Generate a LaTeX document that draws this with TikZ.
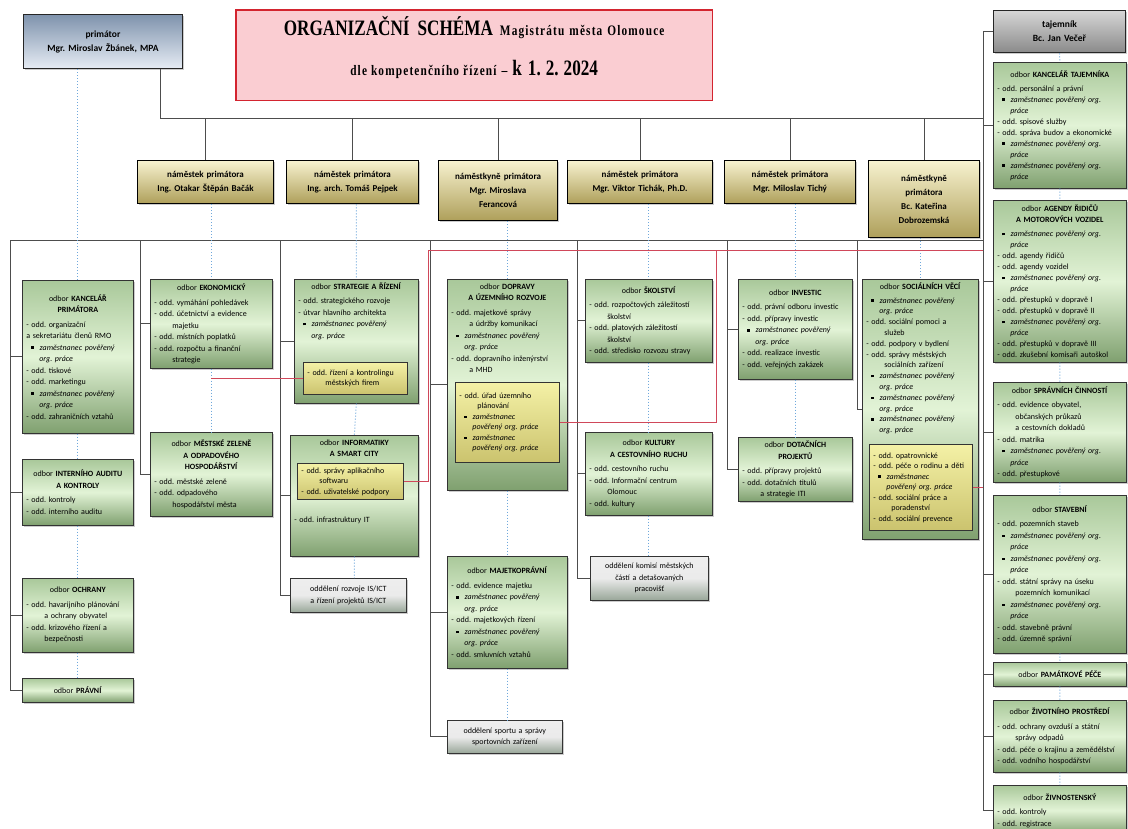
\documentclass[tikz,border=0pt]{standalone}
\usepackage{fontspec}
\setmainfont{Carlito}
\newfontfamily\ttlfont[FakeStretch=0.78]{Liberation Serif}
\usetikzlibrary{shadows}
\frenchspacing

\definecolor{grnTop}{HTML}{A9C89A}
\definecolor{grnMid}{HTML}{E2F3D6}
\definecolor{grnBot}{HTML}{7FA06F}
\definecolor{ylwTop}{HTML}{F4F1A6}
\definecolor{ylwBot}{HTML}{CBC36E}
\definecolor{khTop}{HTML}{F7F2CF}
\definecolor{khBot}{HTML}{AE9F5A}
\definecolor{mayTop}{HTML}{7F93AD}
\definecolor{mayBot}{HTML}{E6ECF4}
\definecolor{secTop}{HTML}{D6D6D6}
\definecolor{secBot}{HTML}{8A8A8A}
\definecolor{odlTop}{HTML}{EEEEEE}
\definecolor{odlBot}{HTML}{98A698}
\definecolor{pinkFill}{HTML}{FACDD2}
\definecolor{redEdge}{HTML}{D3242F}
\definecolor{dotBlue}{HTML}{6FA8DC}
\definecolor{lineGray}{HTML}{4D4D4D}
\definecolor{redLink}{HTML}{D0485A}

\newcommand{\odb}[1]{{\centering odbor \textbf{#1}\par}\vspace{3pt}}
\newcommand{\zamc}[1]{\hspace*{5pt}\rule[1.4pt]{2.3pt}{2.3pt}\hspace{6pt}\textit{#1}}
\newcommand{\zamk}[1]{\hspace*{13pt}\textit{#1}}
\newcommand{\odsaz}[1]{\hspace*{18pt}#1}

\tikzset{
  basebox/.style={draw=black!80, line width=0.7pt, anchor=north west, inner xsep=4pt, inner ysep=3pt, align=left, font=\fontsize{8}{11.5}\selectfont},
  shadowed/.style={drop shadow={shadow xshift=1.2pt, shadow yshift=-1.2pt, opacity=0.4}},
  dept/.style={basebox, shadowed, top color=grnTop, bottom color=grnBot, middle color=grnMid},
  subodd/.style={basebox, line width=0.8pt, top color=ylwTop, bottom color=ylwBot, font=\fontsize{8}{10.5}\selectfont},
  oddel/.style={basebox, shadowed, align=center, top color=odlTop, bottom color=odlBot, middle color=white!92!black},
  deputy/.style={draw=black, line width=1.4pt, anchor=north west, align=center, shadowed, top color=khTop, bottom color=khBot, font=\bfseries\fontsize{9}{14}\selectfont},
  headbox/.style={draw=black!85, line width=1.3pt, anchor=north west, align=center, shadowed, font=\bfseries\fontsize{9.5}{14}\selectfont},
  titlebox/.style={draw=redEdge, line width=1.6pt, fill=pinkFill, anchor=north west, align=center},
  spine/.style={draw=lineGray, line width=0.9pt},
  dotline/.style={draw=dotBlue, dotted, line width=1pt},
  redline/.style={draw=redLink, line width=0.8pt}
}

\begin{document}
\begin{tikzpicture}[x=1pt,y=-1pt]
    \useasboundingbox (0,0) rectangle (1128,828);
    \fill[white] (0,0) rectangle (1128,828);

    \node[headbox, top color=mayTop, bottom color=mayBot, text width=152pt, minimum height=54pt] at (23,14) (mayor) {primátor\\Mgr. Miroslav Žbánek, MPA};
    \node[titlebox, text width=470pt, text height=22pt, text depth=62pt] at (235,9) (title) {{\ttlfont\bfseries\fontsize{22}{26}\selectfont ORGANIZAČNÍ\hspace{8pt}SCHÉMA}\hspace{7pt}{\ttlfont\bfseries\fontsize{14.5}{16}\selectfont\addfontfeature{LetterSpace=8}Magistrátu\hspace{5pt}města\hspace{5pt}Olomouce}\\[21pt]{\ttlfont\bfseries\fontsize{14.5}{16}\selectfont\addfontfeature{LetterSpace=8}dle\hspace{4pt}kompetenčního\hspace{4pt}řízení}\hspace{5pt}{\ttlfont\bfseries\fontsize{15}{16}\selectfont –}\hspace{5pt}{\ttlfont\bfseries\fontsize{22}{26}\selectfont k\hspace{6pt}1.\hspace{5pt}2.\hspace{5pt}2024}};
    \node[headbox, top color=secTop, bottom color=secBot, text width=125pt, minimum height=42pt] at (993,10) (tajemnik) {tajemník\\Bc. Jan Večeř};

    \node[deputy, text width=129pt, minimum height=43pt] at (137,160) (bacak) {náměstek primátora\\Ing. Otakar Štěpán Bačák};
    \node[deputy, text width=125pt, minimum height=43pt] at (286,160) (pejpek) {náměstek primátora\\Ing. arch. Tomáš Pejpek};
    \node[deputy, text width=112pt, minimum height=60pt] at (438,160) (ferancova) {náměstkyně primátora\\Mgr. Miroslava\\Ferancová};
    \node[deputy, text width=138pt, minimum height=43pt] at (567,160) (tichak) {náměstek primátora\\Mgr. Viktor Tichák, Ph.D.};
    \node[deputy, text width=124pt, minimum height=43pt] at (724,160) (tichy) {náměstek primátora\\Mgr. Miloslav Tichý};
    \node[deputy, text width=104pt, minimum height=77pt] at (868,160) (dobroz) {náměstkyně\\primátora\\Bc. Kateřina\\Dobrozemská};

    \node[dept, text width=103pt, minimum height=153pt] at (22,280) (kanc) {\odb{KANCELÁŘ\\PRIMÁTORA}- odd. organizační\\a sekretariátu členů RMO\\\zamc{zaměstnanec pověřený}\\\zamk{org. práce}\\- odd. tiskové\\- odd. marketingu\\\zamc{zaměstnanec pověřený}\\\zamk{org. práce}\\- odd. zahraničních vztahů};
    \node[dept, text width=103pt, minimum height=66pt] at (22,459) (audit) {\odb{INTERNÍHO AUDITU\\A KONTROLY} - odd. kontroly\\ - odd. interního auditu};
    \node[dept, text width=103pt, minimum height=74pt] at (22,578) (ochrany) {\odb{OCHRANY}- odd. havarijního plánování\\\odsaz{a ochrany obyvatel}\\- odd. krizového řízení a\\\odsaz{bezpečnosti}};
    \node[dept, align=center, text width=103pt, minimum height=24pt] at (22,678) (pravni) {odbor \textbf{PRÁVNÍ}};

    \node[dept, text width=114pt, minimum height=89pt] at (150,279) (ekon) {\odb{EKONOMICKÝ}- odd. vymáhání pohledávek\\- odd. účetnictví a evidence\\\odsaz{majetku}\\- odd. místních poplatků\\- odd. rozpočtu a finanční\\\odsaz{strategie}};
    \node[dept, text width=114pt, minimum height=84pt] at (150,432) (zelen) {\odb{MĚSTSKÉ ZELENĚ\\A ODPADOVÉHO\\HOSPODÁŘSTVÍ}- odd. městské zeleně\\- odd. odpadového\\\odsaz{hospodářství města}};

    \node[dept, text width=116pt, text height=7pt, text depth=111pt] at (294,279) (strat) {\odb{STRATEGIE A ŘÍZENÍ}- odd. strategického rozvoje\\- útvar hlavního architekta\\\zamc{zaměstnanec pověřený}\\\zamk{org. práce}};
    \node[subodd, text width=96pt, minimum height=32pt] at (303,362) (kontrol) {- odd. řízení a kontrolingu\\\odsaz{městských firem}};
    \node[dept, text width=120pt, text height=7pt, text depth=108pt] at (290,435) (info) {\odb{INFORMATIKY\\A SMART CITY}\vspace{51pt}- odd. infrastruktury IT};
    \node[subodd, text width=98pt, minimum height=36pt] at (297,463) (software) {- odd. správy aplikačního\\\odsaz{softwaru}\\- odd. uživatelské podpory};
    \node[oddel, text width=108pt, minimum height=34pt] at (290,578) (isict) {oddělení rozvoje IS/ICT\\a řízení projektů IS/ICT};

    \node[dept, text width=112pt, text height=7pt, text depth=198pt] at (447,279) (doprava) {\odb{DOPRAVY\\A ÚZEMNÍHO ROZVOJE}- odd. majetkové správy\\\odsaz{a údržby komunikací}\\\zamc{zaměstnanec pověřený}\\\zamk{org. práce}\\- odd. dopravního inženýrství\\\odsaz{a MHD}};
    \node[subodd, text width=96pt, minimum height=80pt] at (455,382) (upl) {- odd. úřad územního\\\odsaz{plánování}\\\zamc{zaměstnanec}\\\zamk{pověřený org. práce}\\\zamc{zaměstnanec}\\\zamk{pověřený org. práce}};
    \node[dept, text width=112pt, minimum height=112pt] at (447,556) (majetko) {\odb{MAJETKOPRÁVNÍ}- odd. evidence majetku\\\zamc{zaměstnanec pověřený}\\\zamk{org. práce}\\- odd. majetkových řízení\\\zamc{zaměstnanec pověřený}\\\zamk{org. práce}\\- odd. smluvních vztahů};
    \node[oddel, text width=107pt, minimum height=33pt] at (447,720) (sport) {oddělení sportu a správy\\sportovních zařízení};

    \node[dept, text width=119pt, minimum height=83pt] at (585,279) (skol) {\odb{ŠKOLSTVÍ}- odd. rozpočtových záležitostí\\\odsaz{školství}\\- odd. platových záležitostí\\\odsaz{školství}\\- odd. středisko rozvozu stravy};
    \node[dept, text width=119pt, minimum height=83pt] at (585,432) (kult) {\odb{KULTURY\\A CESTOVNÍHO RUCHU}- odd. cestovního ruchu\\- odd. Informační centrum\\\odsaz{Olomouc}\\- odd. kultury};
    \node[oddel, text width=110pt, minimum height=44pt] at (590,556) (komise) {oddělení komisí městských\\částí a detašovaných\\pracovišť};

    \node[dept, text width=106pt, minimum height=100pt] at (738,279) (invest) {\odb{INVESTIC}- odd. právní odboru investic\\- odd. přípravy investic\\\zamc{zaměstnanec pověřený}\\\zamk{org. práce}\\- odd. realizace investic\\- odd. veřejných zakázek};
    \node[dept, text width=106pt, minimum height=64pt] at (738,437) (dotac) {\odb{DOTAČNÍCH\\PROJEKTŮ}- odd. přípravy projektů\\- odd. dotačních titulů\\\odsaz{a strategie ITI}};

    \node[dept, text width=108pt, text height=7pt, text depth=247pt, font=\fontsize{8}{10.8}\selectfont] at (862,279) (social) {\odb{SOCIÁLNÍCH VĚCÍ}\zamc{zaměstnanec pověřený}\\\zamk{org. práce}\\- odd. sociální pomoci a\\\odsaz{služeb}\\- odd. podpory v bydlení\\- odd. správy městských\\\odsaz{sociálních zařízení}\\\zamc{zaměstnanec pověřený}\\\zamk{org. práce}\\\zamc{zaměstnanec pověřený}\\\zamk{org. práce}\\\zamc{zaměstnanec pověřený}\\\zamk{org. práce}};
    \node[subodd, text width=95pt, minimum height=86pt] at (869,444) (socsub) {- odd. opatrovnické\\- odd. péče o rodinu a děti\\\zamc{zaměstnanec}\\\zamk{pověřený org. práce}\\- odd. sociální práce a\\\odsaz{poradenství}\\- odd. sociální prevence};

    \node[dept, text width=125pt, minimum height=126pt, font=\fontsize{8}{11}\selectfont] at (993,62) (ktaj) {\odb{KANCELÁŘ TAJEMNÍKA}- odd. personální a právní\\\zamc{zaměstnanec pověřený org.}\\\zamk{práce}\\- odd. spisové služby\\- odd. správa budov a ekonomické\\\zamc{zaměstnanec pověřený org.}\\\zamk{práce}\\\zamc{zaměstnanec pověřený org.}\\\zamk{práce}};
    \node[dept, text width=125pt, minimum height=162pt, font=\fontsize{8}{11}\selectfont] at (993,200) (agendy) {\odb{AGENDY ŘIDIČŮ\\A MOTOROVÝCH VOZIDEL}\zamc{zaměstnanec pověřený org.}\\\zamk{práce}\\- odd. agendy řidičů\\- odd. agendy vozidel\\\zamc{zaměstnanec pověřený org.}\\\zamk{práce}\\- odd. přestupků v dopravě I\\- odd. přestupků v dopravě II\\\zamc{zaměstnanec pověřený org.}\\\zamk{práce}\\- odd. přestupků v dopravě III\\- odd. zkušební komisaři autoškol};
    \node[dept, text width=125pt, minimum height=100pt] at (993,382) (spravni) {\odb{SPRÁVNÍCH ČINNOSTÍ}- odd. evidence obyvatel,\\\odsaz{občanských průkazů}\\\odsaz{a cestovních dokladů}\\- odd. matrika\\\zamc{zaměstnanec pověřený org.}\\\zamk{práce}\\- odd. přestupkové};
    \node[dept, text width=125pt, minimum height=158pt] at (993,495) (stavebni) {\odb{STAVEBNÍ}- odd. pozemních staveb\\\zamc{zaměstnanec pověřený org.}\\\zamk{práce}\\\zamc{zaměstnanec pověřený org.}\\\zamk{práce}\\- odd. státní správy na úseku\\\odsaz{pozemních komunikací}\\\zamc{zaměstnanec pověřený org.}\\\zamk{práce}\\- odd. stavebně právní\\- odd. územně správní};
    \node[dept, align=center, text width=125pt, minimum height=24pt] at (993,662) (pamatk) {odbor \textbf{PAMÁTKOVÉ PÉČE}};
    \node[dept, text width=125pt, minimum height=72pt] at (993,700) (zivot) {\odb{ŽIVOTNÍHO PROSTŘEDÍ}- odd. ochrany ovzduší a státní\\\odsaz{správy odpadů}\\- odd. péče o krajinu a zemědělství\\- odd. vodního hospodářství};
    \node[dept, text width=125pt, minimum height=50pt] at (993,785) (zivn) {\odb{ŽIVNOSTENSKÝ}- odd. kontroly\\- odd. registrace};

    \coordinate (pm) at (160,118);
    \coordinate (rs) at (983,240);
    \coordinate (c1) at (10,240);
    \coordinate (c2) at (140,240);
    \coordinate (c3) at (280,240);
    \coordinate (c4) at (430,240);
    \coordinate (c5) at (577,240);
    \coordinate (c6) at (727,240);
    \coordinate (c7) at (857,240);
    \coordinate (rb) at (428,250);
    \coordinate (rj) at (716,250);
    \coordinate (re) at (983,250);

    \draw[spine] (mayor.south -| pm) -- (pm) -- (pm -| rs);
    \draw[spine] (bacak.north |- pm) -- (bacak.north);
    \draw[spine] (pejpek.north |- pm) -- (pejpek.north);
    \draw[spine] (ferancova.north |- pm) -- (ferancova.north);
    \draw[spine] (tichak.north |- pm) -- (tichak.north);
    \draw[spine] (tichy.north |- pm) -- (tichy.north);
    \draw[spine] (dobroz.north |- pm) -- (dobroz.north);
    \draw[spine] (tajemnik.west) -| (rs |- zivn.west) -- (zivn.west);
    \draw[spine] (c1) -- (rs);

    \draw[spine] (c1) |- (pravni.west);
    \draw[spine] (c1 |- kanc.west) -- (kanc.west) (c1 |- audit.west) -- (audit.west) (c1 |- ochrany.west) -- (ochrany.west);
    \draw[spine] (c2) |- (zelen.west) (c2 |- ekon.west) -- (ekon.west);
    \draw[spine] (c3) |- (isict.west) (c3 |- strat.west) -- (strat.west) (c3 |- info.west) -- (info.west);
    \draw[spine] (c4) |- (sport.west) (c4 |- doprava.west) -- (doprava.west) (c4 |- majetko.west) -- (majetko.west);
    \draw[spine] (c5) |- (komise.west) (c5 |- skol.west) -- (skol.west) (c5 |- kult.west) -- (kult.west);
    \draw[spine] (c6) |- (dotac.west) (c6 |- invest.west) -- (invest.west);
    \draw[spine] (c7) |- (social.west);
    \draw[spine] (rs |- ktaj.west) -- (ktaj.west) (rs |- agendy.west) -- (agendy.west) (rs |- spravni.west) -- (spravni.west) (rs |- stavebni.west) -- (stavebni.west) (rs |- pamatk.west) -- (pamatk.west) (rs |- zivot.west) -- (zivot.west);

    \draw[dotline] (kanc.north |- mayor.south) -- (kanc.north);
    \draw[dotline] (kanc.south) -- (audit.north) (audit.south) -- (ochrany.north) (ochrany.south) -- (pravni.north);
    \draw[dotline] (ekon.north |- bacak.south) -- (ekon.north) (ekon.south) -- (zelen.north);
    \draw[dotline] (strat.north |- pejpek.south) -- (strat.north) (strat.south) -- (info.north) (info.south) -- (info.south |- isict.north);
    \draw[dotline] (doprava.north |- ferancova.south) -- (doprava.north) (doprava.south) -- (majetko.north) (majetko.south) -- (majetko.south |- sport.north);
    \draw[dotline] (skol.north |- tichak.south) -- (skol.north) (skol.south) -- (kult.north) (kult.south) -- (kult.south |- komise.north);
    \draw[dotline] (invest.north |- tichy.south) -- (invest.north) (invest.south) -- (dotac.north);
    \draw[dotline] (social.north |- dobroz.south) -- (social.north);
    \draw[dotline] (tajemnik.south) -- (ktaj.north) (ktaj.south) -- (agendy.north) (agendy.south) -- (spravni.north) (spravni.south) -- (stavebni.north) (stavebni.south) -- (pamatk.north) (pamatk.south) -- (zivot.north) (zivot.south) -- (zivn.north);

    \draw[redline] (ekon.south |- kontrol.west) -- (kontrol.west);
    \draw[redline] (software.east) -| (rb) -- (re);
    \draw[redline] (upl.east) -| (rj);
    \draw[redline] (socsub.east) -- (socsub.east -| rs);
\end{tikzpicture}
\end{document}
